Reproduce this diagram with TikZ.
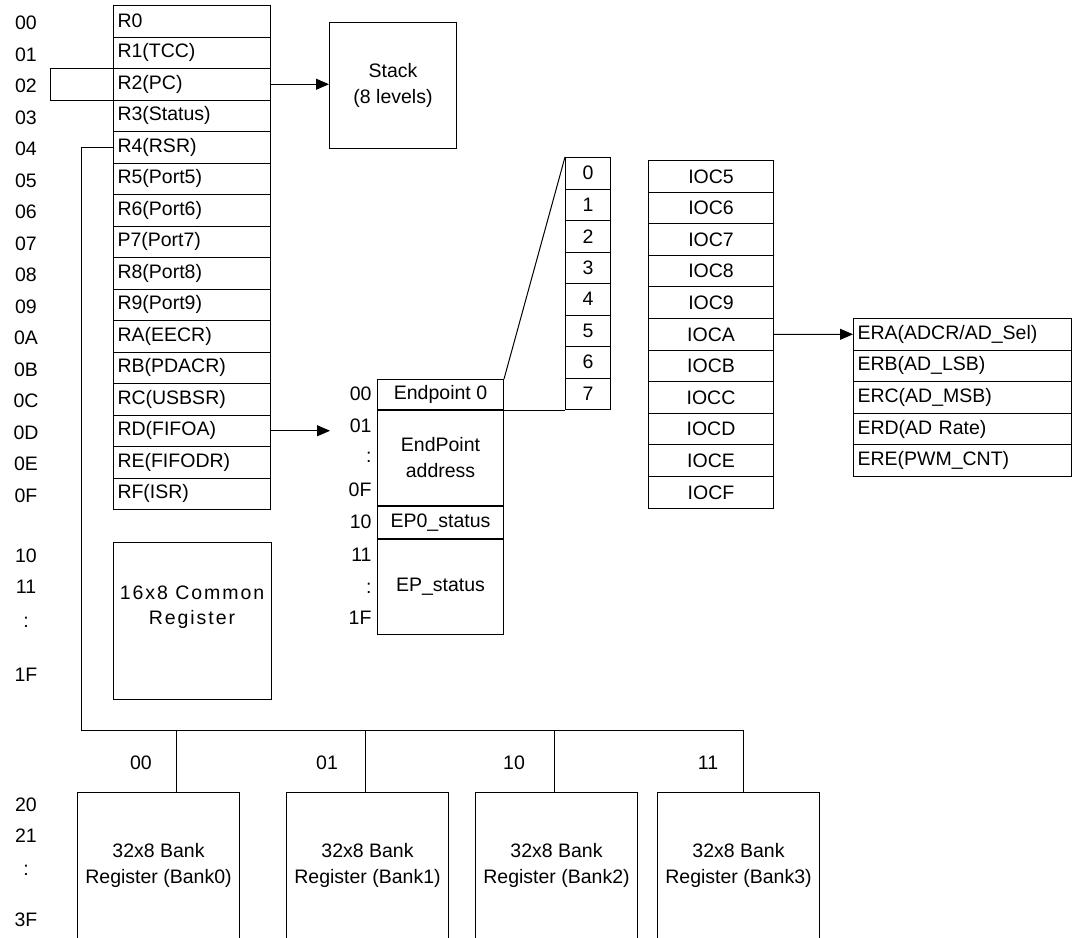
\documentclass[tikz,border=0pt]{standalone}
\usepackage{fontspec}
\setmainfont{Liberation Sans}
\usetikzlibrary{arrows.meta}

\begin{document}
\begin{tikzpicture}[x=1pt,y=-1pt,line width=1pt,
	every node/.style={font=\fontsize{19.5}{26}\selectfont},
	regcell/.style={draw,anchor=north west,inner xsep=4pt,inner ysep=0pt,minimum height=31.5pt,text width=149pt,align=left},
	bitcell/.style={draw,anchor=north west,inner sep=0pt,minimum width=45pt,minimum height=31.5pt},
	ioccell/.style={draw,anchor=north west,inner sep=0pt,minimum width=125pt,minimum height=31.6pt},
	ercell/.style={draw,anchor=north west,inner xsep=4pt,inner ysep=0pt,minimum height=31.6pt,text width=210pt,align=left},
	epcell/.style={draw,anchor=north west,inner sep=0pt,minimum width=126pt,align=center},
	blockbox/.style={draw,anchor=north west,inner sep=0pt,align=center},
	addrlabel/.style={inner sep=0pt},
	spaced/.style={inner sep=0pt,align=center,font=\fontsize{19.5}{25}\selectfont\addfontfeatures{LetterSpace=10}},
	arrowto/.style={-{Triangle[length=13pt,width=11pt]}}]
	\useasboundingbox (0,0) rectangle (1073,937);

	% special function registers
	\foreach \nm/\ad/\txt [count=\i from 0] in {r0/00/R0,r1/01/R1(TCC),r2/02/R2(PC),r3/03/R3(Status),
		r4/04/R4(RSR),r5/05/R5(Port5),r6/06/R6(Port6),r7/07/P7(Port7),r8/08/R8(Port8),r9/09/R9(Port9),
		ra/0A/RA(EECR),rb/0B/RB(PDACR),rc/0C/RC(USBSR),rd/0D/RD(FIFOA),re/0E/RE(FIFODR),rf/0F/RF(ISR)} {
		\node[regcell] (\nm) at (113,5+\i*31.5) {\txt};
		\node[addrlabel] (a\nm) at (26,23+\i*31.5) {\ad};
	}
	\draw (r2.north west) -- ++(-63,0) |- (r2.south west);

	\node[blockbox,minimum width=127pt,minimum height=126pt] (stack) at (329,22) {Stack\\(8 levels)};
	\draw[arrowto] (r2.east) -- (r2.east -| stack.west);

	% common registers
	\node[blockbox,minimum width=158pt,minimum height=157pt] (common) at (113,542) {};
	\node[spaced] (commontext) at (192,607.5) {16x8 Common\\Register};
	\foreach \ad/\y [count=\i] in {10/556,11/587,:/622,1F/675,20/805,21/836,:/870,3F/920}
		\node[addrlabel] (low\i) at (26,\y) {\ad};

	% endpoint table
	\coordinate (fifo) at (330,430.25);
	\draw[arrowto] (rd.east) -- (rd.east -| fifo);
	\node[epcell,minimum height=30pt] (ep0) at (377,379) {Endpoint 0};
	\node[epcell,minimum height=95pt] (epaddr) at (ep0.south west) {EndPoint\\address};
	\node[epcell,minimum height=32pt] (ep0st) at (epaddr.south west) {EP0\_status};
	\node[epcell,minimum height=95pt] (epst) at (ep0st.south west) {EP\_status};
	\foreach \ad/\y [count=\i] in {00/394,01/426,:/457,0F/490,10/522,11/555,:/588,1F/618}
		\node[addrlabel,anchor=east] (ea\i) at (372,\y) {\ad};

	\foreach \b in {0,...,7}
		\node[bitcell] (bit\b) at (565,157+\b*31.5) {\b};
	\draw (ep0.north east) -- (bit0.north west);
	\draw (ep0.south east) -- (bit7.south west);

	% control registers
	\foreach \t [count=\i from 0] in {5,6,7,8,9,A,B,C,D,E,F}
		\node[ioccell] (ioc\t) at (648,160+\i*31.6) {IOC\t};
	\foreach \t/\txt [count=\i from 0] in {a/{ERA(ADCR/AD\_Sel)},b/{ERB(AD\_LSB)},c/{ERC(AD\_MSB)},
		d/{ERD(AD Rate)},e/{ERE(PWM\_CNT)}}
		\node[ercell] (er\t) at (853,318+\i*31.6) {\txt};
	\draw[arrowto] (iocA.east) -- (era.west);

	% banks
	\foreach \b/\x in {0/77,1/286,2/475,3/657}
		\node[blockbox,minimum width=162pt,minimum height=146pt] (bank\b) at (\x,792) {32x8 Bank\\Register (Bank\b)};
	\foreach \t/\x [count=\i from 0] in {00/141,01/327,10/514,11/708}
		\node[addrlabel] (bsel\i) at (\x,763) {\t};

	\coordinate (busL) at (81,730);
	\coordinate (tap0) at (176,730);
	\coordinate (tap1) at (365,730);
	\coordinate (tap2) at (554,730);
	\coordinate (tap3) at (743,730);
	\draw (r4.west) -| (busL) -- (tap3) -- (tap3 |- bank3.north);
	\foreach \b in {0,1,2}
		\draw (tap\b) -- (tap\b |- bank\b.north);
\end{tikzpicture}
\end{document}
